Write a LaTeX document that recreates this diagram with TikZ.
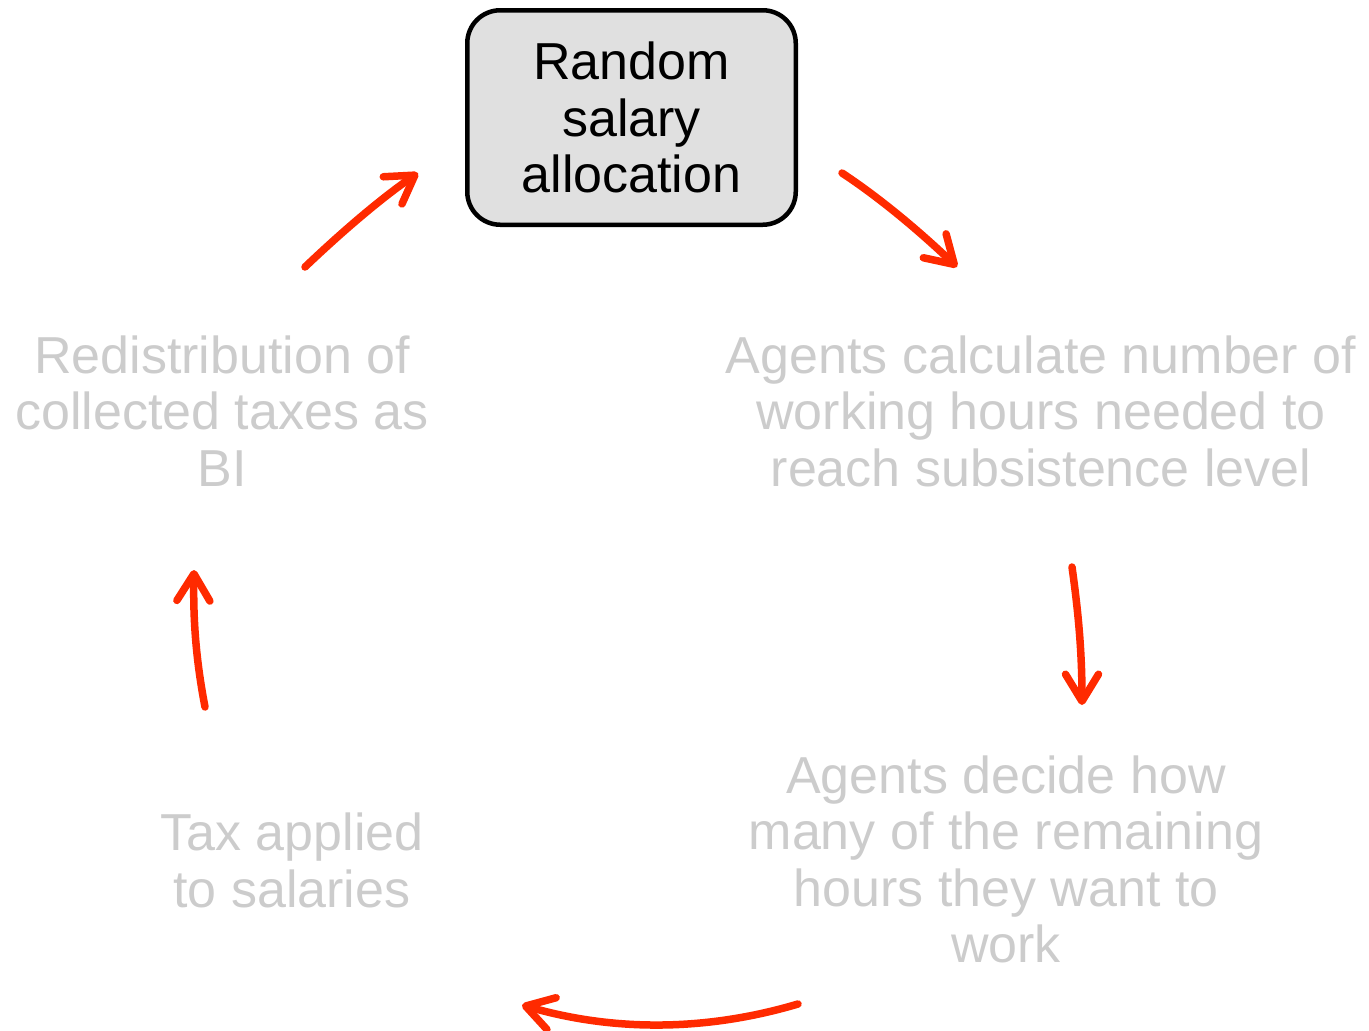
\documentclass[tikz,border=0pt]{standalone}
\usepackage{fontspec}
\setmainfont{Liberation Sans}
\usetikzlibrary{arrows.meta}
\definecolor{arrowred}{RGB}{255,42,0}
\definecolor{fadetext}{RGB}{204,204,204}
\definecolor{boxfill}{RGB}{224,224,224}
\begin{document}
\begin{tikzpicture}[x=1pt,y=-1pt,
  every node/.style={font=\fontsize{52}{56.5}\selectfont},
  label text/.style={text=fadetext, align=center, anchor=base, inner sep=0pt},
  flow/.style={draw=arrowred, line width=7.5pt, line cap=round,
    -{Straight Barb[length=27pt,width=33pt,line cap=round,line join=round]}},
]
\useasboundingbox (0,0) rectangle (1369,1031);
\node[draw, line width=4.5pt, rounded corners=33pt, fill=boxfill,
  minimum width=328.5pt, minimum height=214.5pt, align=center, inner sep=0pt]
  (alloc) at (631.5,117.5) {Random\\salary\\allocation};

% anchor=base is the baseline of the last line
\node[label text] (calc) at (1041,486) {Agents calculate number of\\working hours needed to\\reach subsistence level};
\node[label text] (decide) at (1006,962.5) {Agents decide how\\many of the remaining\\hours they want to\\work};
\node[label text] (tax) at (292,907) {Tax applied\\to salaries};
\node[label text] (redis) at (222,486) {Redistribution of\\collected taxes as\\BI};

\coordinate (a1s) at (842,173); \coordinate (a1e) at (957,267);
\coordinate (a2s) at (1072,567); \coordinate (a2e) at (1082,705);
\coordinate (a3s) at (798,1004); \coordinate (a3e) at (522,1005);
\coordinate (a4s) at (205,707); \coordinate (a4e) at (194,570);
\coordinate (a5s) at (305,267); \coordinate (a5e) at (418,173);

\draw[flow] (a1s) .. controls (877.3,196.3) and (915.7,227.7) .. (a1e);
\draw[flow] (a2s) .. controls (1078,610) and (1082,650) .. (a2e);
\draw[flow] (a3s) .. controls (706,1031.3) and (614,1031.7) .. (a3e);
\draw[flow] (a4s) .. controls (196,660) and (193,620) .. (a4e);
\draw[flow] (a5s) .. controls (346.3,227.7) and (384,196.3) .. (a5e);
\end{tikzpicture}
\end{document}
